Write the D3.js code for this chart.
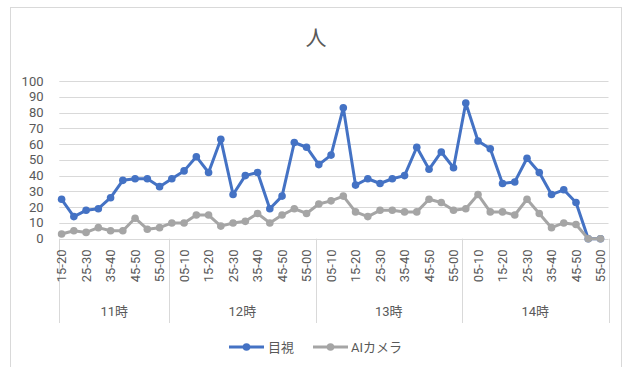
<!DOCTYPE html>
<html>
<head>
<meta charset="utf-8">
<script src="https://cdn.jsdelivr.net/npm/d3@7"></script>
<style>
  html, body { margin: 0; padding: 0; background: #fff; }
  svg { display: block; }
  text { font-family: Roboto, "Noto Sans CJK JP", sans-serif; fill: #595959; }
</style>
</head>
<body>
<svg id="chart" width="632" height="367"></svg>
<script>
// Hour groups and the 5-minute slots inside each hour
const hours = ["11時", "12時", "13時", "14時"];
const slots11 = ["15-20", "20-25", "25-30", "30-35", "35-40", "40-45", "45-50", "50-55", "55-00"];
const slotsFull = ["00-05", "05-10", "10-15", "15-20", "20-25", "25-30", "30-35", "35-40", "40-45", "45-50", "50-55", "55-00"];
const hourSlots = [slots11, slotsFull, slotsFull, slotsFull];

// Counts per slot
const visual = [
  25, 14, 18, 19, 26, 37, 38, 38, 33,
  38, 43, 52, 42, 63, 28, 40, 42, 19, 27, 61, 58,
  47, 53, 83, 34, 38, 35, 38, 40, 58, 44, 55, 45,
  86, 62, 57, 35, 36, 51, 42, 28, 31, 23, 0, 0
];
const aiCamera = [
  3, 5, 4, 7, 5, 5, 13, 6, 7,
  10, 10, 15, 15, 8, 10, 11, 16, 10, 15, 19, 16,
  22, 24, 27, 17, 14, 18, 18, 17, 17, 25, 23, 18,
  19, 28, 17, 17, 15, 25, 16, 7, 10, 9, 0, 0
];
const seriesNames = ["目視", "AIカメラ"];
const seriesColors = ["#4472C4", "#A5A5A5"];
const yTicks = [0, 10, 20, 30, 40, 50, 60, 70, 80, 90, 100];

// Flatten to one row per slot
const rows = [];
hourSlots.forEach((slots, h) => slots.forEach(s => rows.push({ hour: h, slot: s })));
const idx = rows.map((_, i) => i);

const svg = d3.select("#chart");

// Chart area border
svg.append("rect").attr("x", 10.5).attr("y", 7.5).attr("width", 611).attr("height", 370)
  .attr("fill", "none").attr("stroke", "#d9d9d9");

const plotL = 59.3, plotR = 608.5, plotT = 81, plotB = 238.7;

const y = d3.scaleLinear().domain([0, 100]).range([plotB, plotT]);
const band = d3.scaleBand().domain(idx).range([plotL, plotR]);
const x = d3.scalePoint().domain(idx).range([61.6, 600.5]);

// Horizontal gridlines
svg.append("g").selectAll("line").data(yTicks).join("line")
  .attr("x1", plotL).attr("x2", plotR)
  .attr("y1", d => Math.round(y(d)) + 0.5).attr("y2", d => Math.round(y(d)) + 0.5)
  .attr("stroke", "#d9d9d9").attr("stroke-width", 1);

// Y axis labels
svg.append("g").selectAll("text").data(yTicks).join("text")
  .attr("x", 43.5).attr("y", d => y(d))
  .attr("text-anchor", "end").attr("dominant-baseline", "central")
  .attr("font-size", 13).text(d => d);

// Title
svg.append("text").attr("x", 316).attr("y", 38)
  .attr("text-anchor", "middle").attr("dominant-baseline", "central")
  .attr("font-size", 21).text("人");

// Multi-level category axis: group boundaries
const bounds = [0];
let acc = 0;
hourSlots.forEach(s => { acc += s.length; bounds.push(acc); });
const boundX = b => b < rows.length ? band(b) : plotR;
svg.append("g").selectAll("line").data(bounds).join("line")
  .attr("x1", d => Math.round(boundX(d)) + 0.5).attr("x2", d => Math.round(boundX(d)) + 0.5)
  .attr("y1", plotB).attr("y2", 323)
  .attr("stroke", "#d9d9d9").attr("stroke-width", 1);

// Slot labels (every other slot), rotated
svg.append("g").selectAll("text").data(idx.filter(i => i % 2 === 0)).join("text")
  .attr("transform", i => `translate(${x(i)},249.5) rotate(-90)`)
  .attr("text-anchor", "end").attr("dy", "0.35em")
  .attr("font-size", 13).text(i => rows[i].slot);

// Hour labels
svg.append("g").selectAll("text").data(hours).join("text")
  .attr("x", (h, i) => (boundX(bounds[i]) + boundX(bounds[i + 1])) / 2)
  .attr("y", 311).attr("text-anchor", "middle").attr("dominant-baseline", "central")
  .attr("font-size", 13).text(d => d);

// Series lines and markers
const seriesData = [visual, aiCamera];
const line = d3.line().x((d, i) => x(i)).y(d => y(d));
seriesData.forEach((vals, s) => {
  const g = svg.append("g");
  g.append("path").datum(vals).attr("d", line)
    .attr("fill", "none").attr("stroke", seriesColors[s])
    .attr("stroke-width", 3).attr("stroke-linejoin", "round");
  g.selectAll("circle").data(vals).join("circle")
    .attr("cx", (d, i) => x(i)).attr("cy", d => y(d)).attr("r", 3.8)
    .attr("fill", seriesColors[s]);
});

// Legend
const legend = [
  { x0: 229, text: 268 },
  { x0: 313, text: 351 }
];
legend.forEach((L, s) => {
  const g = svg.append("g");
  g.append("line").attr("x1", L.x0).attr("x2", L.x0 + 35).attr("y1", 347).attr("y2", 347)
    .attr("stroke", seriesColors[s]).attr("stroke-width", 3);
  g.append("circle").attr("cx", L.x0 + 17.5).attr("cy", 347).attr("r", 3.8).attr("fill", seriesColors[s]);
  g.append("text").attr("x", L.text).attr("y", 347).attr("dominant-baseline", "central")
    .attr("font-size", 13).text(seriesNames[s]);
});
</script>
</body>
</html>
